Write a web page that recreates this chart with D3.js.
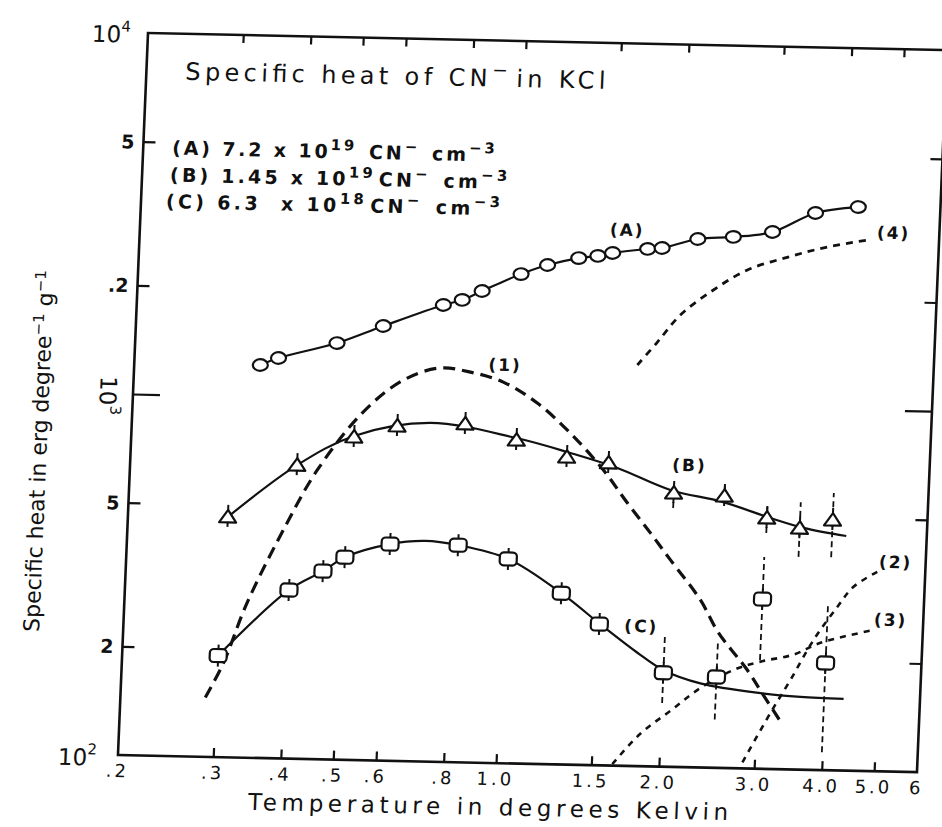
<!DOCTYPE html>
<html>
<head>
<meta charset="utf-8">
<script src="https://cdn.jsdelivr.net/npm/d3@7"></script>
<style>
  body { margin: 0; background: #fff; }
  svg text { font-family: "DejaVu Sans", sans-serif; fill: #111; white-space: pre; }
</style>
</head>
<body>
<svg id="chart" width="942" height="827"></svg>
<script>
// ---- Measured specific heat, erg deg^-1 g^-1, against temperature in K ----
// (A) 7.2e19 CN- cm^-3
const tempA = [0.342, 0.369, 0.472, 0.573, 0.737, 0.798, 0.867, 1.02, 1.14, 1.30, 1.41, 1.50, 1.74, 1.85, 2.15, 2.50, 2.95, 3.53, 4.23];
const heatA = [1224, 1283, 1423, 1596, 1840, 1905, 2022, 2265, 2408, 2528, 2569, 2623, 2704, 2726, 2901, 2954, 3065, 3480, 3636];

// (B) 1.45e19 CN- cm^-3
const tempB = [0.306, 0.407, 0.516, 0.619, 0.826, 1.03, 1.28, 1.53, 2.03, 2.52, 3.03, 3.49, 4.01];
const heatB = [463, 650, 784, 846, 865, 786, 710, 688, 573, 566, 495, 466, 493];
const errLowB  = [null, null, null, null, null, null, null, null, 521, 545, 450, 388, 389];
const errHighB = [null, null, null, null, null, null, null, null, 611, 619, 538, 550, 586];
// smooth curve drawn through the (B) data
const fitTempB = [0.306, 0.407, 0.516, 0.711, 1.029, 1.299, 1.590, 2.0, 2.5, 3.077, 3.546, 4.26];
const fitHeatB = [463, 650, 789, 866, 796, 729, 667, 584, 545, 495, 467, 446];

// (C) 6.3e18 CN- cm^-3
const tempC = [0.301, 0.402, 0.463, 0.507, 0.613, 0.819, 1.016, 1.281, 1.514, 2.005, 2.515, 3.017, 3.99];
const heatC = [191, 293, 332, 364, 398, 399, 368, 298, 246, 182, 178.5, 295, 198];
const errLowC  = [null, null, null, null, null, null, null, null, null, 150, 136, 200, 112];
const errHighC = [null, null, null, null, null, null, null, null, null, 231, 226, 386, 290];
const fitTempC = [0.301, 0.402, 0.463, 0.507, 0.613, 0.711, 0.819, 1.016, 1.281, 1.541, 1.789, 2.005, 2.351, 3.042, 3.608, 4.335];
const fitHeatC = [191, 293, 332, 364, 398, 408, 399, 368, 298, 242, 206, 185, 171, 162, 159, 158];

// Model curves (1)-(4)
const temp1 = [0.287, 0.308, 0.337, 0.394, 0.444, 0.534, 0.630, 0.735, 0.837, 0.964, 1.118, 1.293, 1.499, 1.67, 1.851, 2.025, 2.317, 2.51, 2.866, 3.08, 3.358];
const heat1 = [146, 182, 268, 449, 632, 920, 1134, 1231, 1204, 1135, 998, 828, 657, 534, 443, 374, 291, 238, 187, 160, 133];
const temp2 = [2.851, 3.184, 3.447, 3.776, 4.156, 4.433, 4.96];
const heat2 = [104, 143, 177, 229, 284, 323, 361];
const temp3 = [1.64, 1.837, 2.08, 2.353, 2.70, 3.025, 3.477, 3.89, 4.864];
const heat3 = [101, 123, 143, 166, 187, 198, 208, 225, 246];
const temp4 = [1.70, 1.844, 2.023, 2.318, 2.67, 3.166, 3.738, 4.426];
const heat4 = [1289, 1496, 1783, 2101, 2398, 2618, 2807, 2950];

// Curve labels
const labelText = ["(A)", "(B)", "(C)", "(1)", "(2)", "(3)", "(4)"];
const labelTemp = [1.59, 2.159, 1.811, 0.969, 5.28, 5.22, 4.94];
const labelHeat = [3043, 686, 244, 1266, 380, 263, 3097];

// Axis ticks
const xTickValues = [0.3, 0.4, 0.5, 0.6, 0.8, 1, 1.5, 2, 3, 4, 5];
const xLabelValues = [0.2, 0.3, 0.4, 0.5, 0.6, 0.8, 1, 1.5, 2, 3, 4, 5, 6];
const xLabelText = [".2", ".3", ".4", ".5", ".6", ".8", "1.0", "1.5", "2.0", "3.0", "4.0", "5.0", "6"];
const yTickValues = [200, 500, 1000, 2000, 5000];
const yLabelValues = [200, 500, 2000, 5000];
const yLabelText = ["2", "5", ".2", "5"];

// ---- Layout ----
const W = 799, H = 722;
const INK = "#111";
const svg = d3.select("#chart");
const x = d3.scaleLog().domain([0.2, 6]).range([0, W]);
const y = d3.scaleLog().domain([100, 10000]).range([H, 0]);

// the plate is slightly skewed on the page
const g = svg.append("g").attr("transform", "matrix(1,0.0215,-0.0416,1,148,33)");

// frame
g.append("rect").attr("width", W).attr("height", H)
  .attr("fill", "none").attr("stroke", INK).attr("stroke-width", 2.6);

function styleAxis(sel) {
  sel.select(".domain").remove();
  sel.selectAll(".tick line").attr("stroke", INK).attr("stroke-width", 2.2);
  sel.selectAll(".tick text").remove();
}
g.append("g").attr("transform", `translate(0,${H})`)
  .call(d3.axisBottom(x).tickValues(xTickValues).tickSize(-9)).call(styleAxis);
g.append("g")
  .call(d3.axisTop(x).tickValues(xTickValues).tickSize(-8)).call(styleAxis);
const leftAx = g.append("g")
  .call(d3.axisLeft(y).tickValues(yTickValues).tickSize(-12)).call(styleAxis);
const rightAx = g.append("g").attr("transform", `translate(${W},0)`)
  .call(d3.axisRight(y).tickValues(yTickValues).tickSize(-12)).call(styleAxis);
leftAx.selectAll(".tick").filter(d => d === 1000).select("line").attr("x2", 27);
rightAx.selectAll(".tick").filter(d => d === 1000).select("line").attr("x2", -27);

// tick labels
g.append("g").selectAll("text").data(d3.zip(xLabelValues, xLabelText)).join("text")
  .attr("x", d => x(d[0])).attr("y", H + 22)
  .attr("text-anchor", "middle").attr("font-size", 18).attr("letter-spacing", 3)
  .text(d => d[1]);
g.append("g").selectAll("text").data(d3.zip(yLabelValues, yLabelText)).join("text")
  .attr("x", -9).attr("y", d => y(d[0]) + 7)
  .attr("text-anchor", "end").attr("font-size", 19).attr("font-weight", "bold")
  .text(d => d[1]);

function powerLabel(px, py, base, exp, rot) {
  const t = g.append("text").attr("font-size", 23)
    .attr("transform", `translate(${px},${py})` + (rot ? ` rotate(${rot})` : ""));
  if (rot) t.attr("text-anchor", "middle");
  t.append("tspan").text(base);
  t.append("tspan").attr("font-size", 15).attr("dy", -11).text(exp);
}
powerLabel(-56, 10, "10", "4");
powerLabel(-60, 733, "10", "2");
powerLabel(-33, y(1000) + 2, "10", "3", 90);

// ---- Curves ----
const line = d3.line().x(d => x(d[0])).y(d => y(d[1])).curve(d3.curveCatmullRom.alpha(0.5));
function curve(temps, heats, width, dash) {
  g.append("path").datum(d3.zip(temps, heats)).attr("d", line)
    .attr("fill", "none").attr("stroke", INK).attr("stroke-width", width)
    .attr("stroke-dasharray", dash).attr("stroke-linecap", "butt");
}
curve(temp1, heat1, 3.2, "12 7");
curve(temp2, heat2, 2.6, "6 6");
curve(temp3, heat3, 2.6, "6 6");
curve(temp4, heat4, 2.8, "7 6");
curve(tempA, heatA, 2.2, null);
curve(fitTempB, fitHeatB, 2.2, null);
curve(fitTempC, fitHeatC, 2.2, null);

// error bars
function errorBars(temps, lows, highs) {
  g.append("g").selectAll("line")
    .data(d3.range(temps.length).filter(i => lows[i] !== null))
    .join("line")
    .attr("x1", i => x(temps[i])).attr("x2", i => x(temps[i]))
    .attr("y1", i => y(lows[i])).attr("y2", i => y(highs[i]))
    .attr("stroke", INK).attr("stroke-width", 1.8).attr("stroke-dasharray", "6 4");
}
errorBars(tempB, errLowB, errHighB);
errorBars(tempC, errLowC, errHighC);

// ---- Markers ----
g.append("g").selectAll("ellipse").data(d3.zip(tempA, heatA)).join("ellipse")
  .attr("cx", d => x(d[0])).attr("cy", d => y(d[1]))
  .attr("rx", 7.5).attr("ry", 5.8)
  .attr("fill", "#fff").attr("stroke", INK).attr("stroke-width", 2.2);

const tri = g.append("g").selectAll("g").data(d3.zip(tempB, heatB)).join("g")
  .attr("transform", d => `translate(${x(d[0])},${y(d[1])})`);
tri.append("path").attr("d", "M0,-7L8.5,5.5L-8.5,5.5Z")
  .attr("fill", "#fff").attr("stroke", INK).attr("stroke-width", 2.2).attr("stroke-linejoin", "round");
tri.append("path").attr("d", "M0,-7V-12M0,5.5V10")
  .attr("stroke", INK).attr("stroke-width", 2);

const sq = g.append("g").selectAll("g").data(d3.zip(tempC, heatC)).join("g")
  .attr("transform", d => `translate(${x(d[0])},${y(d[1])})`);
sq.append("rect").attr("x", -8.5).attr("y", -6.5).attr("width", 17).attr("height", 13).attr("rx", 4)
  .attr("fill", "#fff").attr("stroke", INK).attr("stroke-width", 2.2);
sq.append("path").attr("d", "M0,-6.5V-11M0,6.5V11")
  .attr("stroke", INK).attr("stroke-width", 2);

// curve labels
g.append("g").selectAll("text").data(d3.range(labelText.length)).join("text")
  .attr("x", i => x(labelTemp[i])).attr("y", i => y(labelHeat[i]))
  .attr("dy", "0.35em").attr("text-anchor", "middle")
  .attr("font-size", 17).attr("font-weight", "bold").attr("letter-spacing", 2)
  .text(i => labelText[i]);

// ---- Title and legend ----
function richText(px, py, size, len, parts, weight) {
  const t = g.append("text").attr("x", px).attr("y", py).attr("font-size", size)
    .attr("textLength", len).attr("lengthAdjust", "spacing");
  if (weight) t.attr("font-weight", weight);
  parts.forEach(p => {
    if (p.sup) {
      t.append("tspan").attr("dy", -size * 0.42).attr("font-size", size * 0.78).text(p.sup);
      t.append("tspan").attr("dy", size * 0.42).text("\u200B");
    } else {
      t.append("tspan").text(p.t);
    }
  });
}
richText(39, 46, 24, 420, [{t: "Specific heat of CN"}, {sup: "\u2212"}, {t: "in KCl"}]);
richText(29, 121, 19, 325, [{t: "(A) 7.2 x 10"}, {sup: "19"}, {t: " CN"}, {sup: "\u2212"}, {t: " cm"}, {sup: "\u22123"}], "bold");
richText(28, 148, 19, 340, [{t: "(B) 1.45 x 10"}, {sup: "19"}, {t: "CN"}, {sup: "\u2212"}, {t: " cm"}, {sup: "\u22123"}], "bold");
richText(25, 174.5, 19, 337, [{t: "(C) 6.3  x 10"}, {sup: "18"}, {t: "CN"}, {sup: "\u2212"}, {t: " cm"}, {sup: "\u22123"}], "bold");

// axis titles
g.append("text").attr("x", 372).attr("y", 774).attr("text-anchor", "middle")
  .attr("font-size", 23).attr("textLength", 480).attr("lengthAdjust", "spacing")
  .text("Temperature in degrees Kelvin");
const yt = g.append("text").attr("transform", "translate(-84,420) rotate(-90)")
  .attr("text-anchor", "middle").attr("font-size", 22);
yt.append("tspan").text("Specific heat in erg degree");
yt.append("tspan").attr("dy", -8).attr("font-size", 15).text("\u22121");
yt.append("tspan").attr("dy", 8).text(" g");
yt.append("tspan").attr("dy", -8).attr("font-size", 15).text("\u22121");
</script>
</body>
</html>
